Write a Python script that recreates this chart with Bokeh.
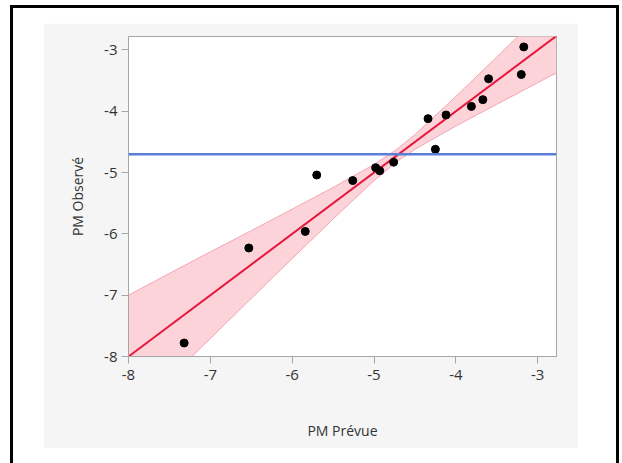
from bokeh.plotting import figure
from bokeh.layouts import column
from bokeh.models import Range1d, FixedTicker, Span, CustomJSTickFormatter
from bokeh.embed import file_html
from bokeh.resources import INLINE
import numpy as np

# Data
predicted = [-7.32, -6.53, -5.84, -5.70, -5.26, -4.98, -4.93, -4.76,
             -4.34, -4.25, -4.12, -3.81, -3.67, -3.60, -3.20, -3.17]
observed = [-7.78, -6.23, -5.96, -5.04, -5.13, -4.92, -4.97, -4.83,
            -4.12, -4.62, -4.06, -3.92, -3.81, -3.47, -3.40, -2.95]

fit_x = [-8.0, -2.77]
fit_y = [-8.0, -2.77]

band_x = [-8.0, -7.5, -7.0, -6.5, -6.0, -5.5, -5.0, -4.72, -4.5, -4.0, -3.5, -3.0, -2.77]
band_lower = [-9.0, -8.356, -7.707, -7.053, -6.404, -5.758, -5.132, -4.82, -4.62,
              -4.242, -3.886, -3.535, -3.374]
band_upper = [-7.0, -6.644, -6.293, -5.947, -5.596, -5.242, -4.868, -4.62, -4.38,
              -3.758, -3.114, -2.465, -2.166]

x_ticks = [-8, -7, -6, -5, -4, -3]
y_ticks = [-8, -7, -6, -5, -4, -3]

FONT = "Open Sans"

p = figure(width=535, height=425, output_backend="svg", toolbar_location=None,
           x_range=Range1d(-8, -2.77), y_range=Range1d(-8, -2.78),
           min_border_left=85, min_border_right=22, min_border_top=13, min_border_bottom=92)
p.background_fill_color = "white"
p.border_fill_color = "#f5f5f5"
p.outline_line_color = "#a6a6a6"
p.outline_line_width = 1
p.grid.visible = False

p.varea(x=band_x, y1=band_lower, y2=band_upper, fill_color="#fbd3d9", fill_alpha=1.0)
p.line(band_x, band_lower, line_color="#f2a7b4", line_width=1)
p.line(band_x, band_upper, line_color="#f2a7b4", line_width=1)

mean_obs = float(np.mean(observed))
p.add_layout(Span(location=mean_obs, dimension="width", line_color="#5b7fd8", line_width=2.5))

p.line(fit_x, fit_y, line_color="#e8163c", line_width=2)
p.scatter(predicted, observed, size=8, fill_color="black", line_color="black")

fmt = CustomJSTickFormatter(code="return String(tick);")
for ax in (p.xaxis[0], p.yaxis[0]):
    ax.axis_line_color = "#a6a6a6"
    ax.major_tick_line_color = "#a6a6a6"
    ax.major_tick_out = 7
    ax.major_tick_in = 0
    ax.minor_tick_line_color = None
    ax.major_label_text_font = FONT
    ax.major_label_text_font_size = "15px"
    ax.major_label_text_color = "#333333"
    ax.axis_label_text_font = FONT
    ax.axis_label_text_font_size = "14px"
    ax.axis_label_text_font_style = "normal"
    ax.axis_label_text_color = "#333333"
    ax.formatter = fmt

p.xaxis.ticker = FixedTicker(ticks=x_ticks)
p.yaxis.ticker = FixedTicker(ticks=y_ticks)
p.xaxis.axis_label = "PM Prévue"
p.yaxis.axis_label = "PM Observé"
p.xaxis.major_label_standoff = 6
p.yaxis.major_label_standoff = 4
p.xaxis.axis_label_standoff = 38
p.yaxis.axis_label_standoff = 14

lay = column(p, styles={"border": "3px solid black", "padding": "15px 38px 40px 30px",
                        "margin": "5px 0 0 10px", "background-color": "white"})

open("out.html", "w").write(file_html(lay, INLINE))
